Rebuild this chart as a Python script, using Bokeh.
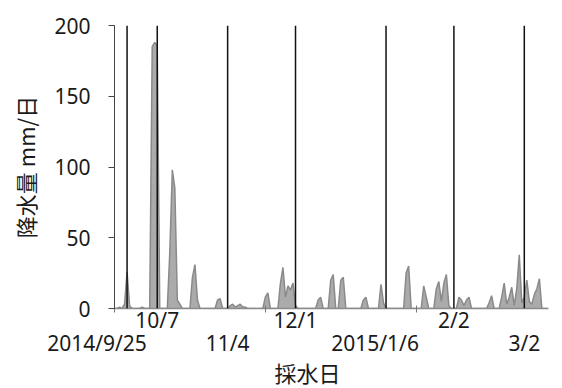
import pandas as pd
from bokeh.plotting import figure
from bokeh.models import Span, FixedTicker, ColumnDataSource, Range1d, Title
from bokeh.embed import file_html
from bokeh.resources import INLINE

# ---- data -------------------------------------------------------------
start_date = "2014-09-20"          # first day of the daily series
end_date = "2015-03-11 15:00"       # right edge of the time axis

# daily precipitation (mm/day), one value per day from 2014-09-20
rain_mm = [
    0, 0, 1, 0, 3, 26, 2, 0, 0, 0,          # 9/20 - 9/29
    0, 1, 0, 0, 0, 185, 188, 186, 0, 0,      # 9/30 - 10/9
    0, 0, 40, 98, 85, 6, 3, 0, 0, 0,         # 10/10 - 10/19
    0, 22, 31, 6, 0, 0, 0, 0, 0, 0,          # 10/20 - 10/29
    0, 6, 7, 0, 0, 0, 2, 3, 1, 2,            # 10/30 - 11/8
    3, 1, 1, 0, 0, 0, 0, 0, 0, 0,            # 11/9 - 11/18
    8, 11, 0, 0, 0, 0, 18, 29, 8, 16,        # 11/19 - 11/28
    13, 18, 2, 0, 0, 0, 0, 0, 0, 0,          # 11/29 - 12/8
    0, 6, 8, 0, 0, 0, 20, 24, 0, 0,          # 12/9 - 12/18
    20, 22, 0, 0, 0, 0, 0, 0, 0, 6,          # 12/19 - 12/28
    8, 0, 0, 0, 0, 0, 17, 4, 0, 0,           # 12/29 - 1/7
    0, 0, 0, 0, 0, 0, 25, 30, 0, 0,          # 1/8 - 1/17
    0, 0, 0, 16, 8, 0, 0, 0, 14, 19,         # 1/18 - 1/27
    5, 18, 24, 2, 0, 0, 0, 8, 6, 2,          # 1/28 - 2/6
    6, 8, 0, 0, 0, 0, 0, 0, 0, 4,            # 2/7 - 2/16
    9, 0, 0, 0, 8, 18, 3, 8, 15, 2,          # 2/17 - 2/26
    14, 38, 4, 8, 20, 5, 3, 10, 14, 21,      # 2/27 - 3/8
    0, 0, 0,                                 # 3/9 - 3/11
]

sample_dates = ["2014-09-25", "2014-10-07", "2014-11-04", "2014-12-01",
                "2015-01-06", "2015-02-02", "2015-03-02"]
sample_labels = ["2014/9/25", "10/7", "11/4", "12/1", "2015/1/6", "2/2", "3/2"]
x_tick_dates = ["2014-09-20", "2014-11-19", "2015-01-18"]
y_ticks = [0, 50, 100, 150, 200]

y_title = "降水量 mm/日"
x_title = "採水日"

# ---- styles -----------------------------------------------------------
label_row = [1, 0, 1, 0, 1, 0, 1]      # 0 = upper row, 1 = lower row
label_pad = [11, 0, 0, 0, 4, 0, 0]     # trailing no-break spaces (nudge left)
NUM_FONT = "Noto Sans"
JP_FONT = "Noto Sans CJK JP"
TEXT_COLOR = "#1a1a1a"


def ms(d):
    return pd.Timestamp(d).value / 1e6


dates = pd.date_range(start_date, periods=len(rain_mm), freq="D")
src = ColumnDataSource(dict(x=dates, y=rain_mm))

p = figure(
    width=562, height=388,
    x_axis_type="datetime",
    x_range=Range1d(ms(start_date), ms(end_date)),
    y_range=Range1d(0, 200),
    output_backend="svg", toolbar_location=None,
    min_border_left=114, min_border_right=14,
    min_border_top=25, min_border_bottom=80,
)
p.outline_line_color = None
p.grid.visible = False
p.background_fill_color = "white"
p.border_fill_color = "white"

# area of daily precipitation
p.varea(x="x", y1=0, y2="y", source=src, fill_color="#ababab")
p.line(x="x", y="y", source=src, line_color="#8a8a8a", line_width=1.5)

# sampling-day vertical lines
for d in sample_dates:
    p.add_layout(Span(location=ms(d), dimension="height",
                      line_color="#111111", line_width=1.5))

# y axis
ya = p.yaxis[0]
ya.ticker = FixedTicker(ticks=y_ticks)
ya.axis_line_color = "#444444"
ya.major_tick_line_color = "#444444"
ya.major_tick_in = 0
ya.major_tick_out = 6
ya.minor_tick_line_color = None
ya.major_label_text_font = NUM_FONT
ya.major_label_text_font_size = "21px"
ya.major_label_text_color = TEXT_COLOR
ya.major_label_standoff = 18
ya.axis_label = y_title
ya.axis_label_text_font = JP_FONT
ya.axis_label_text_font_size = "22px"
ya.axis_label_text_font_style = "normal"
ya.axis_label_text_color = TEXT_COLOR
ya.axis_label_standoff = 10

# x axis: sampling-date labels (two staggered rows), tick marks as minor ticks
overrides = {}
for d, lab, row, pad in zip(sample_dates, sample_labels, label_row, label_pad):
    overrides[ms(d)] = ("\n" if row == 1 else "") + lab + "\u00a0" * pad

xa = p.xaxis[0]
xa.ticker = FixedTicker(ticks=[ms(d) for d in sample_dates],
                        minor_ticks=[ms(d) for d in x_tick_dates])
xa.major_label_overrides = overrides
xa.axis_line_color = "#8a8a8a"
xa.axis_line_width = 1.5
xa.major_tick_line_color = None
xa.major_tick_in = 0
xa.major_tick_out = 0
xa.minor_tick_line_color = "#777777"
xa.minor_tick_in = 3
xa.minor_tick_out = 4
xa.major_label_standoff = -7
xa.major_label_text_font = NUM_FONT
xa.major_label_text_font_size = "21px"
xa.major_label_text_color = TEXT_COLOR
xa.major_label_text_line_height = 0.85

p.add_layout(Title(text=x_title, align="left", offset=160, standoff=-14,
                   text_font=JP_FONT, text_font_size="22px",
                   text_font_style="normal", text_color=TEXT_COLOR), "below")

open("out.html", "w").write(file_html(p, INLINE))
